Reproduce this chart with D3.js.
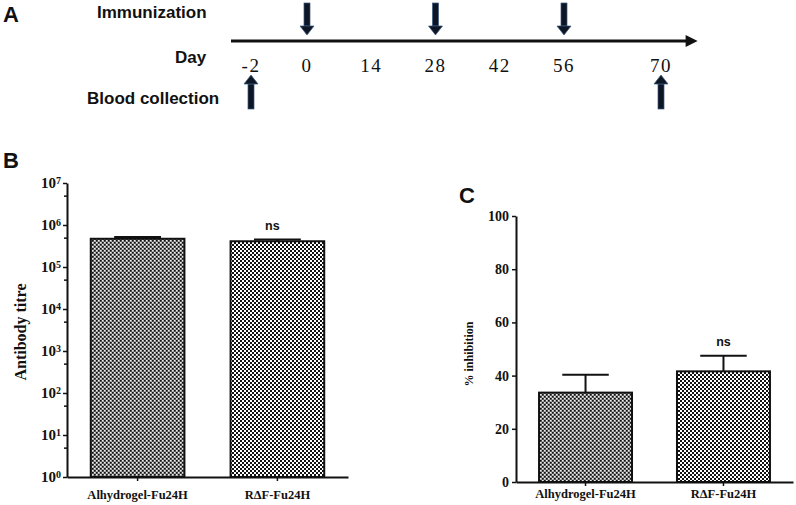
<!DOCTYPE html>
<html>
<head>
<meta charset="utf-8">
<script src="https://cdn.jsdelivr.net/npm/d3@7"></script>
<style>
  html, body { margin: 0; padding: 0; background: #fff; }
  svg { display: block; }
</style>
</head>
<body>
<svg id="chart" width="796" height="505"></svg>
<script>
// timeline (panel A)
const days = [-2, 0, 14, 28, 42, 56, 70]
const immunizationDays = [0, 28, 56]
const bloodDays = [-2, 70]

// panel B: antibody titre (log scale)
const groups = ["Alhydrogel-Fu24H", "R\u0394F-Fu24H"]
const titreMean = [4.7e5, 4.1e5]
const titreUpper = [5.2e5, 4.5e5]
const titreTicks = [1, 10, 100, 1e3, 1e4, 1e5, 1e6, 1e7]

// panel C: % inhibition
const inhibMean = [33.6, 41.6]
const inhibUpper = [40.3, 47.5]
const inhibTicks = [0, 20, 40, 60, 80, 100]

const sig = ["", "ns"]

const svg = d3.select("#chart")
const ink = "#111"
const serif = "'Liberation Serif', 'Times New Roman', serif"
const sans = "'Liberation Sans', Arial, sans-serif"

// patterns
const defs = svg.append("defs")
const fine = defs.append("pattern").attr("id", "fine")
  .attr("patternUnits", "userSpaceOnUse").attr("width", 4).attr("height", 4)
fine.append("rect").attr("width", 4).attr("height", 4).attr("fill", "#8c8c8c")
fine.append("rect").attr("width", 1.6).attr("height", 1.6).attr("fill", "#111")
fine.append("rect").attr("x", 2).attr("y", 2).attr("width", 1.6).attr("height", 1.6).attr("fill", "#111")
fine.append("rect").attr("x", 2).attr("width", 1.4).attr("height", 1.4).attr("fill", "#eee")
fine.append("rect").attr("y", 2).attr("width", 1.4).attr("height", 1.4).attr("fill", "#eee")

const coarse = defs.append("pattern").attr("id", "coarse")
  .attr("patternUnits", "userSpaceOnUse").attr("width", 4).attr("height", 4)
coarse.append("rect").attr("width", 4).attr("height", 4).attr("fill", "#fff")
coarse.append("rect").attr("width", 2).attr("height", 2).attr("fill", "#111")
coarse.append("rect").attr("x", 2).attr("y", 2).attr("width", 2).attr("height", 2).attr("fill", "#111")

const fills = ["url(#fine)", "url(#coarse)"]

// ---------- Panel A ----------
const gA = svg.append("g")
gA.append("text").attr("x", 3).attr("y", 22).attr("font-family", sans)
  .attr("font-weight", "bold").attr("font-size", 22).attr("fill", ink).text("A")

const dayX = d3.scaleLinear().domain([-2, 0, 56, 70]).range([251, 307, 564, 661])
const lineY = 41

defs.append("marker").attr("id", "tip").attr("viewBox", "0 0 10 10")
  .attr("refX", 2).attr("refY", 5).attr("markerWidth", 5).attr("markerHeight", 4)
  .attr("markerUnits", "strokeWidth").attr("orient", "auto")
  .append("path").attr("d", "M0,0L10,5L0,10Z").attr("fill", ink)

gA.append("line").attr("x1", 231).attr("x2", 688).attr("y1", lineY).attr("y2", lineY)
  .attr("stroke", ink).attr("stroke-width", 3).attr("marker-end", "url(#tip)")

const labelStyle = (t) => t.attr("font-family", sans).attr("font-weight", "bold")
  .attr("font-size", 17).attr("fill", ink)
gA.append("text").attr("x", 97).attr("y", 18).call(labelStyle).text("Immunization")
gA.append("text").attr("x", 175).attr("y", 63).call(labelStyle).text("Day")
gA.append("text").attr("x", 87).attr("y", 104).call(labelStyle).text("Blood collection")

gA.selectAll("text.day").data(days).join("text").attr("class", "day")
  .attr("x", (d) => dayX(d)).attr("y", 72).attr("text-anchor", "middle")
  .attr("font-family", serif).attr("font-size", 19).attr("letter-spacing", 1.5)
  .attr("fill", ink).text((d) => d)

const arrowColor = "#0e1626"
const arrow = (g, x, yFrom, yTo) => {
  const dir = yTo > yFrom ? 1 : -1
  const head = 9
  const neck = yTo - dir * head
  g.append("rect").attr("x", x - 3).attr("width", 6)
    .attr("y", Math.min(yFrom, neck)).attr("height", Math.abs(neck - yFrom))
    .attr("fill", arrowColor).attr("stroke", "#3a5a80").attr("stroke-width", 0.7)
  g.append("path")
    .attr("d", `M${x - 7},${neck}L${x + 7},${neck}L${x},${yTo}Z`)
    .attr("fill", arrowColor).attr("stroke", "#3a5a80").attr("stroke-width", 0.7)
}
immunizationDays.forEach((d) => arrow(gA, dayX(d), 3, 35))
bloodDays.forEach((d) => arrow(gA, dayX(d), 109, 75))

// ---------- shared bar drawing ----------
function drawBars(g, x, y, means, uppers, base) {
  const bw = x.bandwidth()
  g.selectAll("line.err").data(groups).join("line").attr("class", "err")
    .attr("x1", (d) => x(d) + bw / 2).attr("x2", (d) => x(d) + bw / 2)
    .attr("y1", (d, i) => y(means[i])).attr("y2", (d, i) => y(uppers[i]))
    .attr("stroke", ink).attr("stroke-width", 2)
  g.selectAll("line.cap").data(groups).join("line").attr("class", "cap")
    .attr("x1", (d) => x(d) + bw / 4).attr("x2", (d) => x(d) + bw * 3 / 4)
    .attr("y1", (d, i) => y(uppers[i])).attr("y2", (d, i) => y(uppers[i]))
    .attr("stroke", ink).attr("stroke-width", 2)
  g.selectAll("rect.bar").data(groups).join("rect").attr("class", "bar")
    .attr("x", (d) => x(d)).attr("width", bw)
    .attr("y", (d, i) => y(means[i])).attr("height", (d, i) => y(base) - y(means[i]))
    .attr("fill", (d, i) => fills[i]).attr("stroke", ink).attr("stroke-width", 2)
}

function styleAxis(g, fontSize) {
  g.select(".domain").attr("stroke", ink).attr("stroke-width", 2)
  g.selectAll(".tick line").attr("stroke", ink).attr("stroke-width", 1.5)
  g.selectAll(".tick text").attr("font-family", serif).attr("font-weight", "bold")
    .attr("font-size", fontSize).attr("fill", ink)
}

// ---------- Panel B ----------
const gB = svg.append("g")
gB.append("text").attr("x", 3).attr("y", 168).attr("font-family", sans)
  .attr("font-weight", "bold").attr("font-size", 22).attr("fill", ink).text("B")

const xB = d3.scaleBand().domain(groups).range([67, 348]).paddingInner(0.33).paddingOuter(0.17)
const yB = d3.scaleLog().domain([1, 1e7]).range([477, 183])

drawBars(gB, xB, yB, titreMean, titreUpper, 1)

const minorB = titreTicks.slice(0, -1).map((d) => d * 5)
gB.append("g").attr("transform", "translate(67,0)")
  .call(d3.axisLeft(yB).tickValues(minorB).tickSize(3).tickFormat(""))
  .call((g) => { g.select(".domain").remove(); g.selectAll("line").attr("stroke", ink).attr("stroke-width", 1.5) })

const axB = gB.append("g").attr("transform", "translate(67,0)")
  .call(d3.axisLeft(yB).tickValues(titreTicks).tickSize(4).tickSizeOuter(0).tickFormat(""))
styleAxis(axB, 15)
axB.selectAll(".tick").append("text")
  .attr("x", -6).attr("dy", "0.3em").attr("text-anchor", "end")
  .attr("font-family", serif).attr("font-weight", "bold").attr("font-size", 15).attr("fill", ink)
  .each(function (d) {
    const t = d3.select(this)
    t.append("tspan").text("10")
    t.append("tspan").attr("dy", "-0.45em").attr("font-size", 10).text(Math.round(Math.log10(d)))
  })

const axBx = gB.append("g").attr("transform", "translate(0,477)")
  .call(d3.axisBottom(xB).tickSize(4).tickSizeOuter(0).tickPadding(9))
styleAxis(axBx, 12.5)

gB.append("text").attr("transform", "translate(26,332) rotate(-90)")
  .attr("text-anchor", "middle").attr("font-family", serif).attr("font-weight", "bold")
  .attr("font-size", 16).attr("fill", ink).text("Antibody titre")

gB.selectAll("text.sig").data(groups).join("text").attr("class", "sig")
  .attr("x", (d) => xB(d) + xB.bandwidth() / 2 - 5).attr("y", (d, i) => yB(titreUpper[i]) - 10)
  .attr("text-anchor", "middle").attr("font-family", sans).attr("font-weight", "bold")
  .attr("font-size", 12.5).attr("fill", ink).text((d, i) => sig[i])

// ---------- Panel C ----------
const gC = svg.append("g")
gC.append("text").attr("x", 459).attr("y", 203).attr("font-family", sans)
  .attr("font-weight", "bold").attr("font-size", 22).attr("fill", ink).text("C")

const xC = d3.scaleBand().domain(groups).range([516, 793]).paddingInner(0.326).paddingOuter(0.167)
const yC = d3.scaleLinear().domain([0, 100]).range([482, 216])

drawBars(gC, xC, yC, inhibMean, inhibUpper, 0)

const axC = gC.append("g").attr("transform", "translate(516,0)")
  .call(d3.axisLeft(yC).tickValues(inhibTicks).tickSize(4).tickSizeOuter(0).tickPadding(3))
styleAxis(axC, 14)

const axCx = gC.append("g").attr("transform", "translate(0,482)")
  .call(d3.axisBottom(xC).tickSize(4).tickSizeOuter(0).tickPadding(3))
styleAxis(axCx, 12.5)

gC.append("text").attr("transform", "translate(473,354) rotate(-90)")
  .attr("text-anchor", "middle").attr("font-family", serif).attr("font-weight", "bold")
  .attr("font-size", 12).attr("fill", ink).text("% inhibition")

gC.selectAll("text.sig").data(groups).join("text").attr("class", "sig")
  .attr("x", (d) => xC(d) + xC.bandwidth() / 2).attr("y", (d, i) => yC(inhibUpper[i]) - 10)
  .attr("text-anchor", "middle").attr("font-family", sans).attr("font-weight", "bold")
  .attr("font-size", 12.5).attr("fill", ink).text((d, i) => sig[i])
</script>
</body>
</html>
